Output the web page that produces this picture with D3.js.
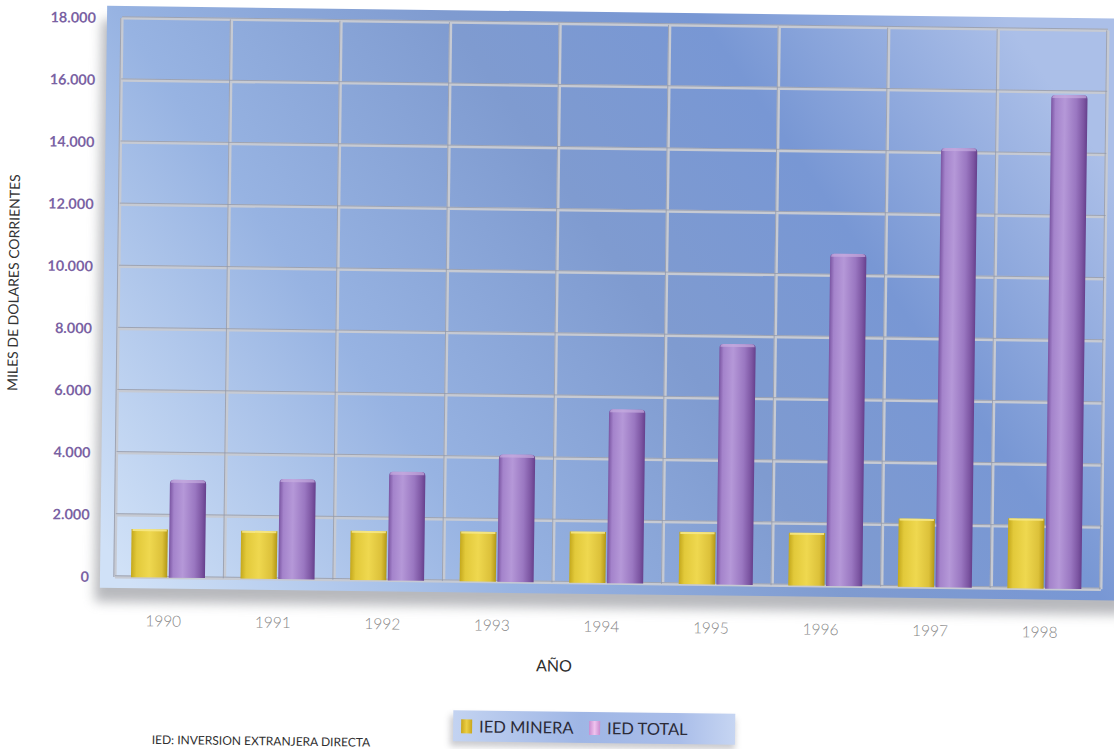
<!DOCTYPE html>
<html>
<head>
<meta charset="utf-8">
<script src="https://cdn.jsdelivr.net/npm/d3@7"></script>
<style>
  html, body { margin: 0; padding: 0; background: #ffffff; }
  svg { display: block; }
  text { font-family: "Lato", "Noto Sans", sans-serif; }
</style>
</head>
<body>
<svg id="chart" width="1114" height="749"></svg>
<script>
// Foreign direct investment, thousands of current dollars
const years = ["1990", "1991", "1992", "1993", "1994", "1995", "1996", "1997", "1998"];
const seriesNames = ["IED MINERA", "IED TOTAL"];
const iedMinera = [1550, 1540, 1580, 1600, 1650, 1680, 1700, 2200, 2250];
const iedTotal = [3150, 3220, 3500, 4100, 5600, 7750, 10700, 14150, 15900];
const yTickValues = [0, 2000, 4000, 6000, 8000, 10000, 12000, 14000, 16000, 18000];
const yTitle = "MILES DE DOLARES CORRIENTES";
const xTitle = "AÑO";
const footnote = "IED: INVERSION EXTRANJERA DIRECTA";

const rows = years.map((yr, i) => ({ year: yr, values: [iedMinera[i], iedTotal[i]] }));

const svg = d3.select("#chart");
const defs = svg.append("defs");

// geometry of the plotting grid
const gx0 = 122, gx1 = 1108, gy0 = 18, gy1 = 577;

const x = d3.scaleBand().domain(years).range([gx0, gx1]).padding(0);
const xs = d3.scaleBand().domain(seriesNames).range([16, 90]).paddingInner(0.04);
const y = d3.scaleLinear().domain([0, 18000]).range([gy1, gy0]);

const locale = d3.formatLocale({ decimal: ",", thousands: ".", grouping: [3], currency: ["", ""] });
const fmt = locale.format(",d");

// gradients
function linGrad(id, attrs, stops) {
  const g = defs.append("linearGradient").attr("id", id);
  Object.entries(attrs).forEach(([k, v]) => g.attr(k, v));
  stops.forEach(([o, c, op]) => g.append("stop").attr("offset", o).attr("stop-color", c).attr("stop-opacity", op == null ? 1 : op));
}
linGrad("panelGrad", { gradientUnits: "userSpaceOnUse", x1: 150, y1: 600, x2: 1000, y2: 0 }, [
  [0, "#d0e1f7"], [0.3, "#97b3e2"], [0.56, "#7f9bd0"], [0.76, "#7897d4"], [1, "#abbfe8"]
]);
linGrad("yellowGrad", { x1: 0, y1: 0, x2: 1, y2: 0 }, [
  [0, "#c4a81c"], [0.15, "#e2c93a"], [0.5, "#efd84f"], [0.85, "#dcc13a"], [1, "#b49816"]
]);
linGrad("purpleGrad", { x1: 0, y1: 0, x2: 1, y2: 0 }, [
  [0, "#7a55a2"], [0.12, "#a483cb"], [0.38, "#b598d8"], [0.7, "#9a77c1"], [0.9, "#7c55a2"], [1, "#66408c"]
]);
linGrad("legendGrad", { x1: 0, y1: 0, x2: 1, y2: 0 }, [
  [0, "#c3d3f1"], [0.45, "#9fb6e5"], [0.8, "#a9bde9"], [1, "#c6d5f2"]
]);
linGrad("legendYellow", { x1: 0, y1: 0, x2: 1, y2: 0 }, [
  [0, "#c9a61c"], [0.5, "#eccf45"], [1, "#c9a61c"]
]);
linGrad("legendPink", { x1: 0, y1: 0, x2: 1, y2: 0 }, [
  [0, "#c98ccf"], [0.5, "#efc3ee"], [1, "#c98ccf"]
]);

const blur = defs.append("filter").attr("id", "shadowBlur").attr("x", "-10%").attr("y", "-10%").attr("width", "120%").attr("height", "130%");
blur.append("feGaussianBlur").attr("stdDeviation", 6);
const blurSm = defs.append("filter").attr("id", "shadowSm").attr("x", "-10%").attr("y", "-50%").attr("width", "120%").attr("height", "200%");
blurSm.append("feGaussianBlur").attr("stdDeviation", 3);

// whole figure sits slightly tilted
const root = svg.append("g").attr("transform", `rotate(0.72, ${gx0}, ${gy0})`);

// panel with its cast shadow
const panel = { x: 107, y: 6, w: 1030, h: 582 };
root.append("rect")
  .attr("x", panel.x - 5).attr("y", panel.y + 14)
  .attr("width", panel.w).attr("height", panel.h)
  .attr("fill", "#7d7f86").attr("opacity", 0.55)
  .attr("filter", "url(#shadowBlur)");
root.append("rect")
  .attr("x", panel.x).attr("y", panel.y)
  .attr("width", panel.w).attr("height", panel.h)
  .attr("fill", "url(#panelGrad)");

// grid lines
const grid = root.append("g").attr("class", "grid");
const hVals = yTickValues;
const vVals = d3.range(years.length + 1).map(i => i === years.length ? gx1 : x(years[i]));
grid.selectAll("line.hl").data(hVals).join("line").attr("class", "hl")
  .attr("x1", gx0).attr("x2", gx1).attr("y1", d => y(d)).attr("y2", d => y(d))
  .attr("stroke", "#c6cad3").attr("stroke-width", 3.2);
grid.selectAll("line.vl").data(vVals).join("line").attr("class", "vl")
  .attr("x1", d => d).attr("x2", d => d).attr("y1", gy0).attr("y2", gy1)
  .attr("stroke", "#c6cad3").attr("stroke-width", 3.2);
grid.selectAll("line.hd").data(hVals).join("line").attr("class", "hd")
  .attr("x1", gx0).attr("x2", gx1).attr("y1", d => y(d) - 1.2).attr("y2", d => y(d) - 1.2)
  .attr("stroke", "#8f96a7").attr("stroke-width", 0.9).attr("opacity", 0.8);
grid.selectAll("line.vd").data(vVals).join("line").attr("class", "vd")
  .attr("x1", d => d - 1.2).attr("x2", d => d - 1.2).attr("y1", gy0).attr("y2", gy1)
  .attr("stroke", "#8f96a7").attr("stroke-width", 0.9).attr("opacity", 0.8);

// bars
const groups = root.append("g").selectAll("g.year").data(rows).join("g")
  .attr("class", "year")
  .attr("transform", d => `translate(${x(d.year)},0)`);

function roundTopPath(x0, y0, w, h, r) {
  return `M${x0},${y0 + h} L${x0},${y0 + r} Q${x0},${y0} ${x0 + r},${y0} L${x0 + w - r},${y0} Q${x0 + w},${y0} ${x0 + w},${y0 + r} L${x0 + w},${y0 + h} Z`;
}

groups.each(function (d) {
  const g = d3.select(this);
  const bw = xs.bandwidth();
  // mining FDI: flat-topped block
  const vy = d.values[0];
  g.append("rect")
    .attr("x", xs(seriesNames[0])).attr("y", y(vy))
    .attr("width", bw).attr("height", y(0) - y(vy))
    .attr("fill", "url(#yellowGrad)");
  g.append("rect")
    .attr("x", xs(seriesNames[0]) + 1).attr("y", y(vy))
    .attr("width", bw - 2).attr("height", 2)
    .attr("fill", "#f7e98a").attr("opacity", 0.85);
  // total FDI: cylinder
  const vt = d.values[1];
  g.append("path")
    .attr("d", roundTopPath(xs(seriesNames[1]), y(vt), bw, y(0) - y(vt), 4))
    .attr("fill", "url(#purpleGrad)");
  g.append("path")
    .attr("d", roundTopPath(xs(seriesNames[1]) + 1, y(vt), bw - 2, 3, 3))
    .attr("fill", "#c6acdf").attr("opacity", 0.7);
});

// y axis labels
const yAxis = d3.axisLeft(y).tickValues(yTickValues).tickFormat(fmt).tickSize(0).tickPadding(0);
const yg = root.append("g").attr("transform", "translate(96,0)").call(yAxis);
yg.select(".domain").remove();
yg.selectAll("text")
  .attr("fill", "#7a62a3")
  .attr("font-size", 14.5)
  .attr("font-weight", 700)
  .style("font-family", "Lato, 'Noto Sans', sans-serif");

// x axis labels
const xAxis = d3.axisBottom(x).tickSize(0).tickPadding(38);
const xg = root.append("g").attr("transform", `translate(-6,${gy1})`).call(xAxis);
xg.select(".domain").remove();
xg.selectAll("text")
  .attr("fill", "#858585")
  .attr("font-size", 15.5)
  .attr("font-weight", 300)
  .style("font-family", "Lato, 'Noto Sans', sans-serif");

// axis titles
root.append("text")
  .attr("transform", "translate(22,284) rotate(-90)")
  .attr("text-anchor", "middle")
  .attr("fill", "#333333")
  .attr("font-size", 14)
  .text(yTitle);

root.append("text")
  .attr("x", 562).attr("y", 666)
  .attr("text-anchor", "middle")
  .attr("fill", "#2e2e2e")
  .attr("font-size", 16)
  .text(xTitle);

// footnote
root.append("text")
  .attr("x", 270).attr("y", 743.5)
  .attr("text-anchor", "middle")
  .attr("fill", "#303030")
  .attr("font-size", 12)
  .text(footnote);

// legend
const lg = root.append("g").attr("transform", "translate(462,706)");
lg.append("rect").attr("x", -3).attr("y", 5).attr("width", 285).attr("height", 31)
  .attr("fill", "#8c8c94").attr("opacity", 0.45).attr("filter", "url(#shadowSm)");
lg.append("rect").attr("width", 282).attr("height", 31).attr("fill", "url(#legendGrad)");
const legendFills = ["url(#legendYellow)", "url(#legendPink)"];
const legendOffsets = [[8, 26], [136, 154]];
seriesNames.forEach((name, i) => {
  lg.append("rect")
    .attr("x", legendOffsets[i][0]).attr("y", 9)
    .attr("width", 11).attr("height", 14)
    .attr("fill", legendFills[i]);
  lg.append("text")
    .attr("x", legendOffsets[i][1]).attr("y", 22)
    .attr("fill", "#2b2b38")
    .attr("font-size", 16.5)
    .text(name);
});
</script>
</body>
</html>
